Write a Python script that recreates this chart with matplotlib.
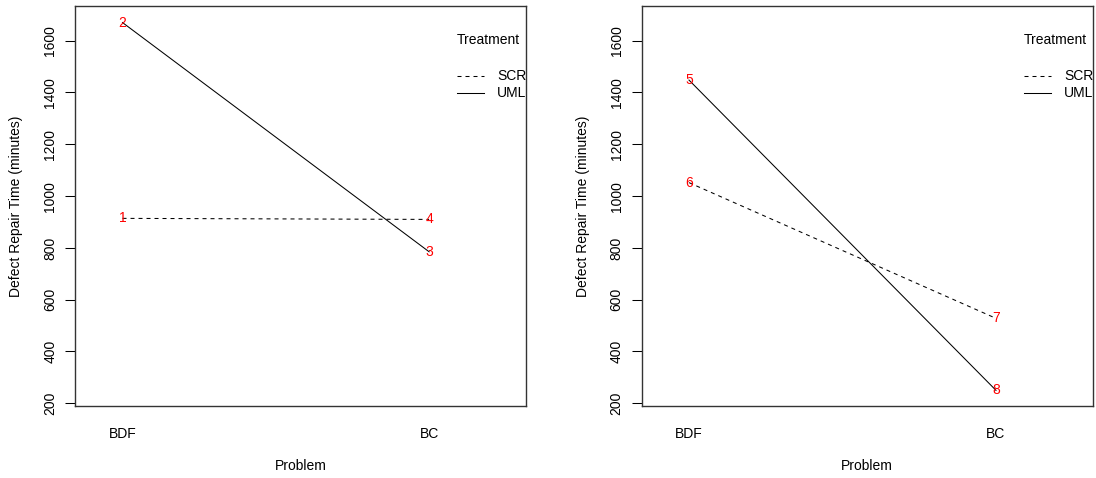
import matplotlib
matplotlib.use("Agg")
import matplotlib.pyplot as plt

plt.rcParams['font.family'] = ['Liberation Sans', 'DejaVu Sans']
plt.rcParams['font.size'] = 10

# ---- data ----
problems = ["BDF", "BC"]
treatments = ["SCR", "UML"]
# left panel: SCR (labels 1,4), UML (labels 2,3)
left_scr = [914, 910]
left_uml = [1670, 785]
left_scr_labels = ["1", "4"]
left_uml_labels = ["2", "3"]
# right panel: SCR (labels 6,7), UML (labels 5,8)
right_scr = [1052, 528]
right_uml = [1448, 250]
right_scr_labels = ["6", "7"]
right_uml_labels = ["5", "8"]
yticks = [200, 400, 600, 800, 1000, 1200, 1400, 1600]

W, H = 1096, 478
fig = plt.figure(figsize=(W / 100, H / 100), dpi=100)

def px_axes(x0, x1, ytop, ybot):
    return fig.add_axes([x0 / W, (H - ybot) / H, (x1 - x0) / W, (ybot - ytop) / H])

dash = (0, (3.84, 3.84))

def panel(ax, scr, uml, scr_lab, uml_lab):
    xs = [1, 2]
    ax.plot(xs, scr, color='black', lw=0.75, linestyle=dash)
    ax.plot(xs, uml, color='black', lw=0.75, linestyle='-')
    for x, y, t in zip(xs, scr, scr_lab):
        ax.text(x, y, t, color='#ff0000', ha='center', va='center', fontsize=10)
    for x, y, t in zip(xs, uml, uml_lab):
        ax.text(x, y, t, color='#ff0000', ha='center', va='center', fontsize=10)
    ax.set_xlim(0.846, 2.315)
    ax.set_ylim(191.5, 1732.8)
    ax.set_xticks(xs)
    ax.set_xticklabels(problems)
    ax.set_yticks(yticks)
    ax.set_yticklabels([str(v) for v in yticks], rotation=90, va='center')
    ax.tick_params(axis='x', length=0, pad=15.3, labelsize=10)
    ax.tick_params(axis='y', length=7, width=0.75, pad=6, labelsize=10)
    for s in ax.spines.values():
        s.set_linewidth(1.0)
        s.set_color('#333333')
    ax.set_xlabel("Problem")
    ax.set_ylabel("Defect Repair Time (minutes)")
    hpx = ax.get_position().height * H
    wpx = ax.get_position().width * W
    ax.xaxis.set_label_coords(0.5, -(466 - 405.5) / hpx)
    ax.xaxis.label.set_verticalalignment('center')
    ax.yaxis.set_label_coords(-59 / wpx, 0.5)
    ax.yaxis.label.set_verticalalignment('center')
    # legend (R interaction.plot style, clipped at plot box)
    ax.text(0.848, 0.9156, "Treatment", transform=ax.transAxes, ha='left', va='center', clip_on=True)
    ax.plot([0.848, 0.907], [0.8254, 0.8254], transform=ax.transAxes, color='black', lw=0.75, linestyle=dash)
    ax.plot([0.848, 0.907], [0.7836, 0.7836], transform=ax.transAxes, color='black', lw=0.75)
    ax.text(0.936, 0.8254, treatments[0], transform=ax.transAxes, ha='left', va='center', clip_on=True)
    ax.text(0.936, 0.7836, treatments[1], transform=ax.transAxes, ha='left', va='center', clip_on=True)

ax1 = px_axes(75.3, 525.7, 6.3, 405.5)
panel(ax1, left_scr, left_uml, left_scr_labels, left_uml_labels)
ax2 = px_axes(641.7, 1092.7, 6.3, 405.5)
panel(ax2, right_scr, right_uml, right_scr_labels, right_uml_labels)

fig.savefig("out.png", dpi=100)
